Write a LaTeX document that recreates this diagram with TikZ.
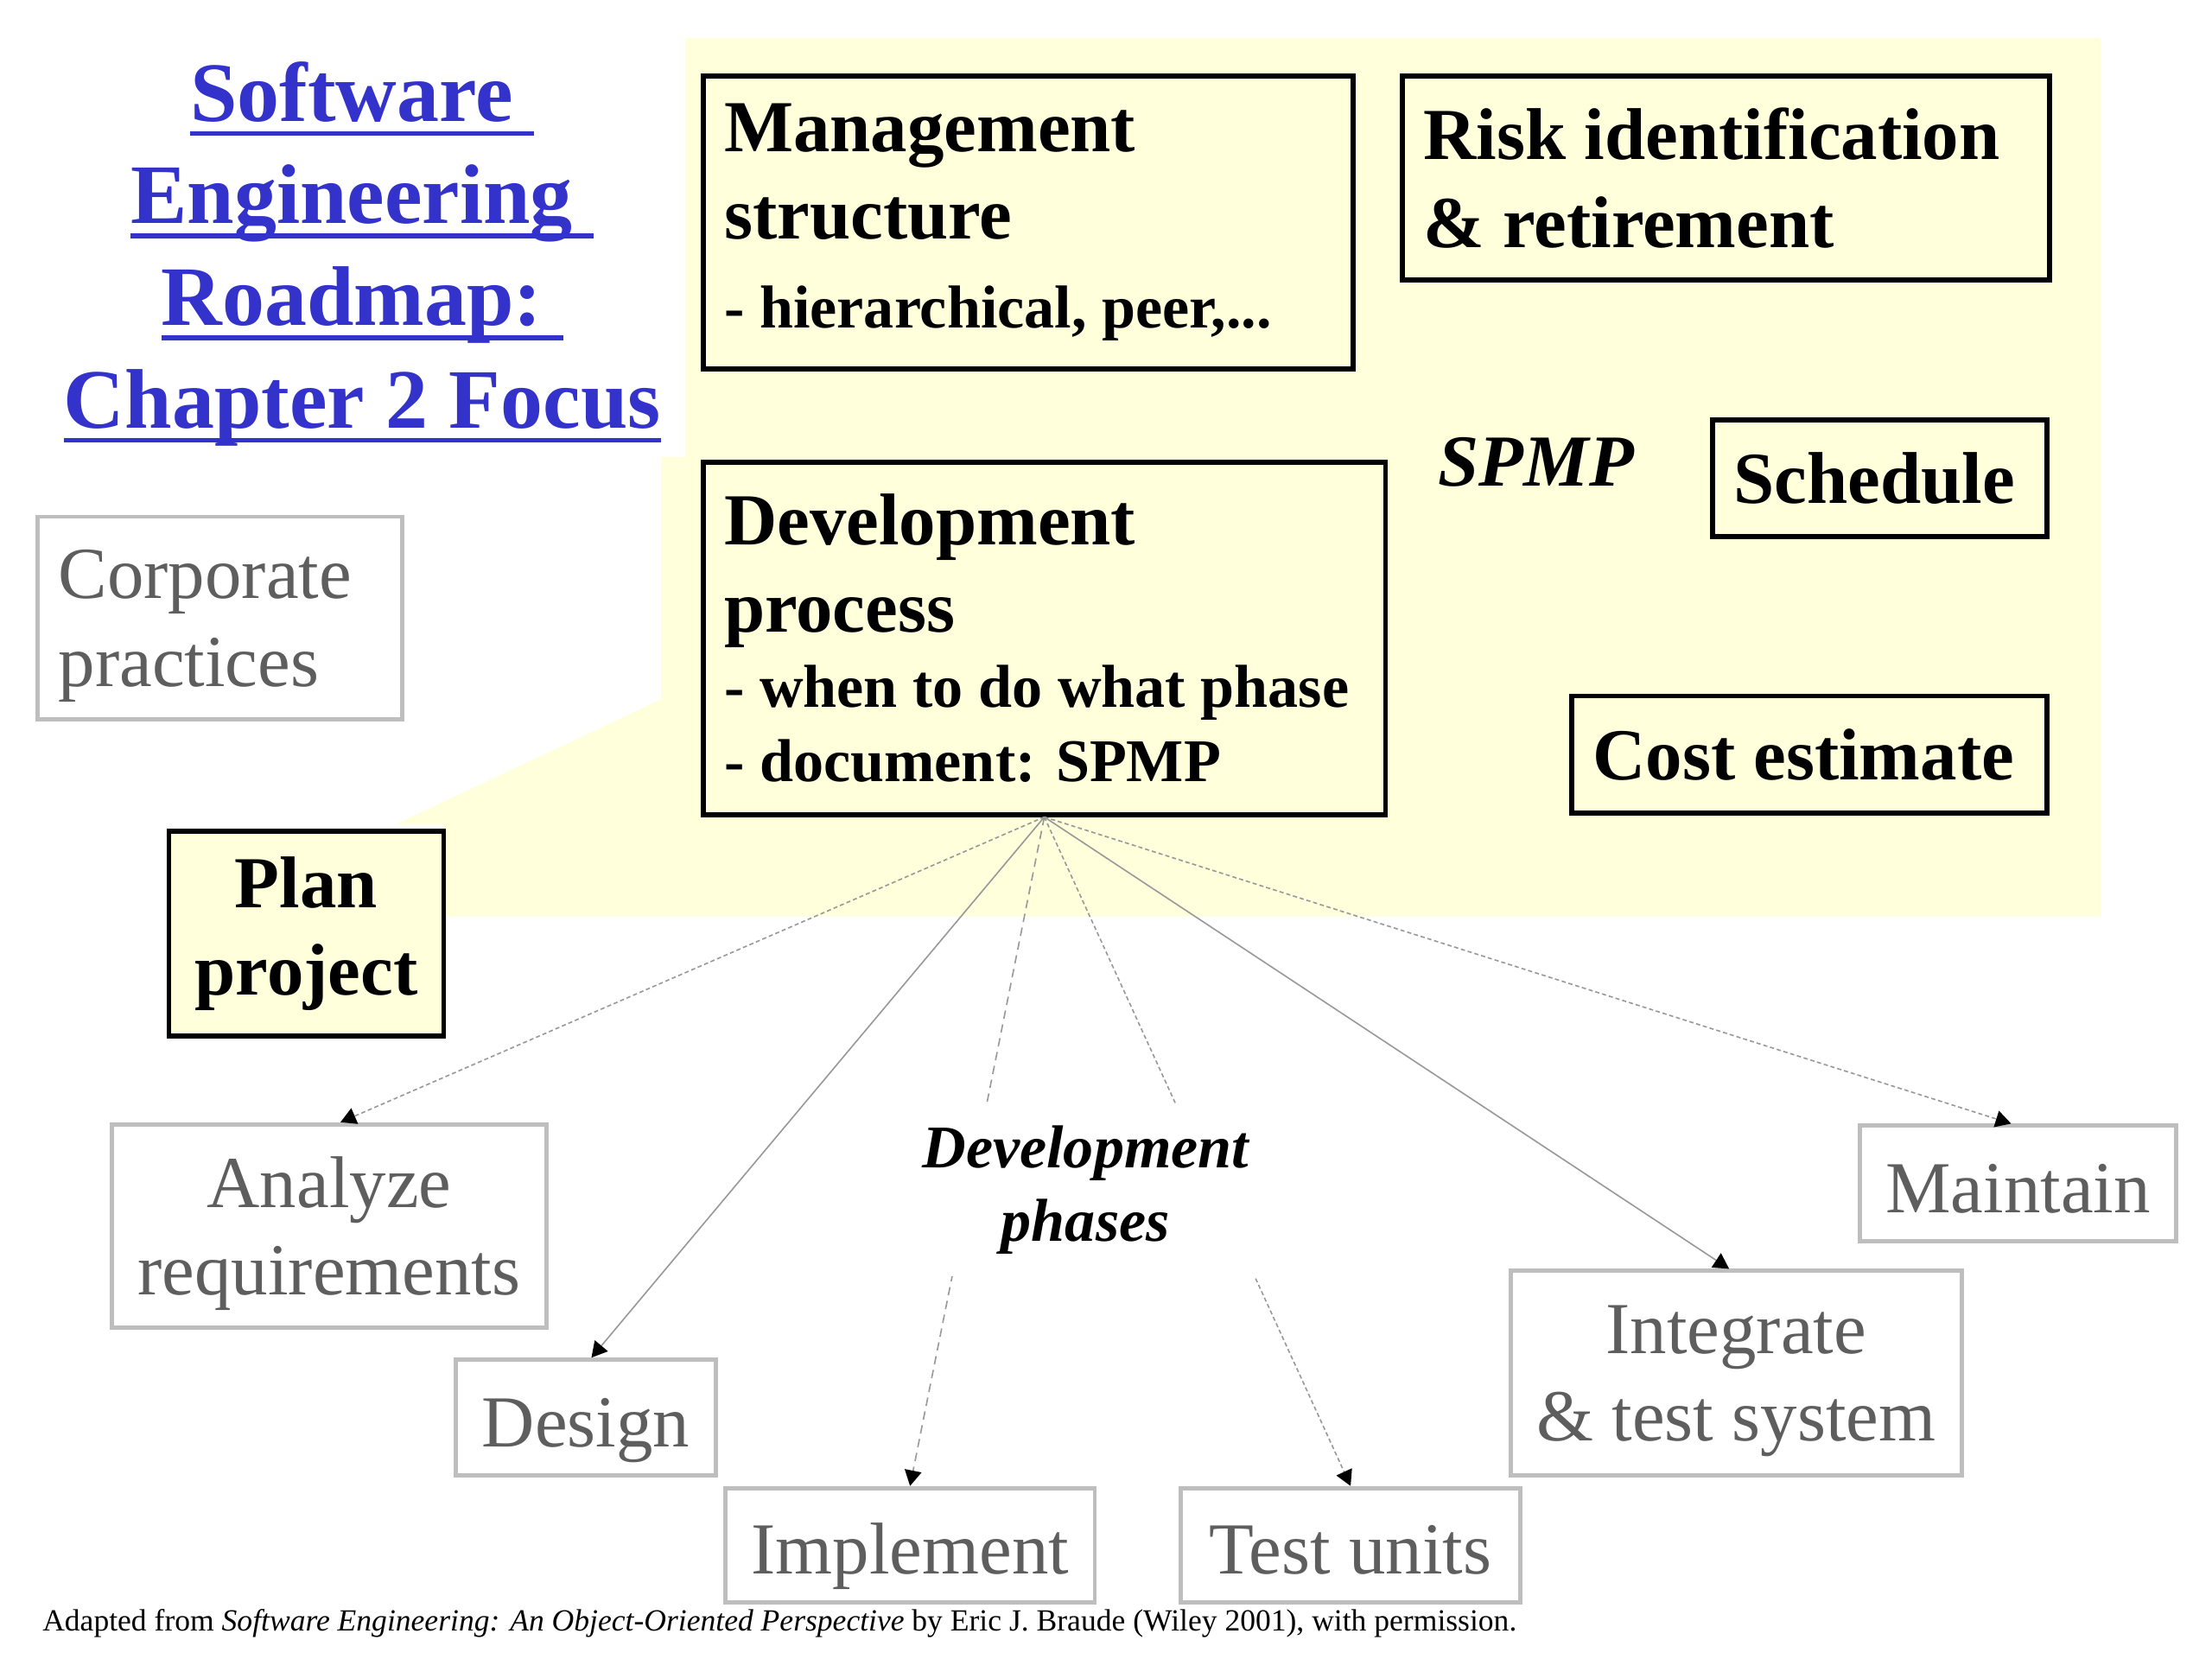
\documentclass[tikz,border=0pt]{standalone}
\usepackage{fontspec}
\setmainfont{Liberation Serif}
\usetikzlibrary{arrows.meta}
\definecolor{memo}{HTML}{FFFFDC}
\definecolor{ttlblue}{HTML}{3333CC}
\definecolor{boxgray}{HTML}{BEBEBE}
\definecolor{txtgray}{HTML}{5E5E5E}
\newsavebox{\ulbox}
\newcommand{\tul}[1]{\sbox{\ulbox}{#1}\rlap{\rule[-10.5pt]{\wd\ulbox}{3.5pt}}\usebox{\ulbox}}
\newcommand{\subsz}{\fontsize{43}{53}\selectfont}
\begin{document}
\begin{tikzpicture}[x=1pt, y=-1pt,
  bbox/.style={draw=black, line width=3.5pt, fill=memo, anchor=north west, align=flush left,
    inner xsep=15pt, inner ysep=0pt, font=\fontsize{52}{62}\selectfont\bfseries},
  gbox/.style={draw=boxgray, line width=3pt, fill=white, anchor=north west, align=center,
    inner sep=0pt, text depth=0pt, text=txtgray, font=\fontsize{52}{62}\selectfont},
  gone/.style={gbox, text height=41pt},
  link/.style={draw=black!40, line width=1pt, -{Triangle[length=11pt, width=12pt, black]}}]
\useasboundingbox (0,0) rectangle (1569,1176.75);
% yellow call-out behind the plan
\fill[memo] (486,27) -- (1490,27) -- (1490,650) -- (314,650) -- (314,585) -- (280,585)
  -- (469,496) -- (469,324) -- (486,324) -- cycle;
\node[align=center, inner sep=0pt, text=ttlblue, font=\fontsize{60}{72.5}\selectfont\bfseries] (ttl) at (257,180)
  {\tul{Software\ }\\\tul{Engineering\ }\\\tul{Roadmap:\ }\\\tul{Chapter 2 Focus}};
\node[bbox, minimum width=461, minimum height=208, text width=431] (mgmt) at (497,52)
  {Management\\structure\par\vspace{10pt}{\subsz - hierarchical, peer,...\par}};
\node[bbox, minimum width=459, minimum height=145, text width=429] (risk) at (993,52)
  {Risk identification\\\& retirement};
\node[anchor=base west, inner sep=0pt, font=\fontsize{52}{62}\selectfont\bfseries\itshape] (spmp) at (1020,345) {SPMP};
\node[bbox, minimum width=237, minimum height=83, text width=207] (sched) at (1213,296) {Schedule};
\node[bbox, minimum width=484, minimum height=250, text width=454] (dev) at (497,326)
  {Development\\process\par{\subsz - when to do what phase\\- document: SPMP\par}};
\node[bbox, minimum width=337, minimum height=83, text width=307] (cost) at (1113,492) {Cost estimate};
\node[bbox, align=center, minimum width=195, minimum height=145, inner xsep=0pt] (plan) at (118,588) {Plan\\project};
\node[gbox, align=flush left, inner xsep=15pt, minimum width=259, minimum height=144, text width=229,
  text depth=62pt] (corp) at (25,365) {Corporate\\practices};
\node[gbox, minimum width=308, minimum height=144] (anl) at (78,796) {Analyze\\requirements};
\node[gone, minimum width=184, minimum height=82] (dsg) at (322,963) {Design};
\node[gone, minimum width=262, minimum height=81] (impl) at (513,1054) {Implement};
\node[gone, minimum width=241, minimum height=81] (tst) at (836,1054) {Test units};
\node[gbox, minimum width=320, minimum height=145] (intg) at (1070,900) {Integrate\\\& test system};
\node[gone, minimum width=224, minimum height=82] (mnt) at (1318,797) {Maintain};
% phases fanning out of the development process
\draw[link, dash pattern=on 3pt off 2pt] (dev.south) -- ([xshift=8pt]anl.north);
\draw[link] (dev.south) -- ([xshift=4pt]dsg.north);
\draw[link, dash pattern=on 6pt off 4pt] (dev.south) -- (impl.north);
\draw[link, dash pattern=on 3pt off 2pt] (dev.south) -- (tst.north);
\draw[link] (dev.south) -- ([xshift=-5pt]intg.north);
\draw[link, dash pattern=on 3pt off 2pt] (dev.south) -- ([xshift=-5pt]mnt.north);
\node[fill=white, align=center, inner sep=0pt, minimum width=250, minimum height=122,
  font=\fontsize{43}{52}\selectfont\bfseries\itshape] (phs) at (770,844) {Development\\phases};
\node[anchor=base west, inner sep=0pt, font=\fontsize{21.8}{25}\selectfont] (src) at (30,1157)
  {Adapted from \textit{Software Engineering: An Object-Oriented Perspective} by Eric J. Braude (Wiley 2001), with permission.};
\end{tikzpicture}
\end{document}
